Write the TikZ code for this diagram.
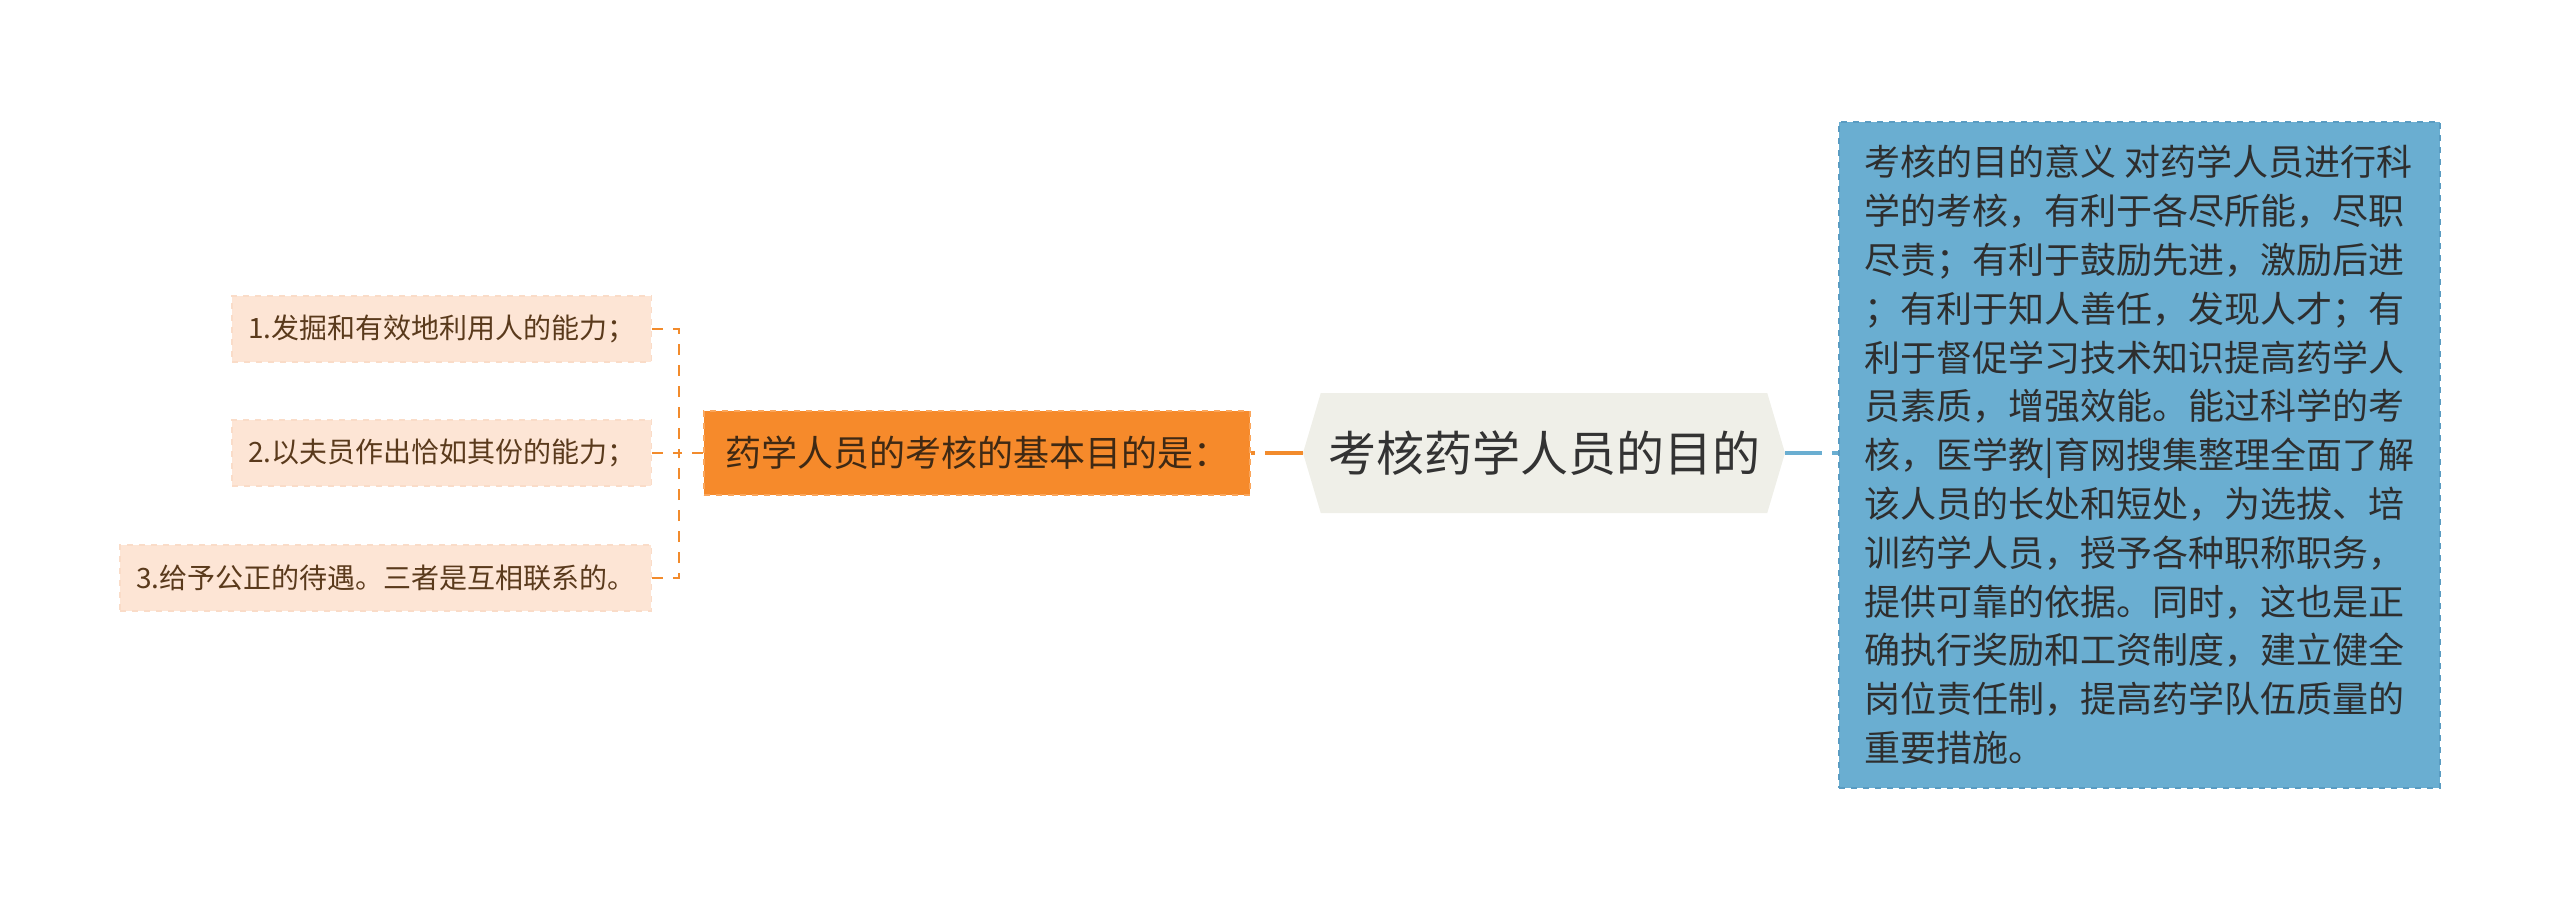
\documentclass[tikz,border=0pt]{standalone}
\usepackage{fontspec}
\newfontfamily\cjk{Noto Sans CJK SC}
\usetikzlibrary{shapes.symbols}
\definecolor{hubfill}{HTML}{EFEFE8}
\definecolor{hubtext}{HTML}{333333}
\definecolor{trunkorange}{HTML}{F28B2C}
\definecolor{boxorange}{HTML}{F68A2B}
\definecolor{boxorangeedge}{HTML}{FAA65C}
\definecolor{leaffill}{HTML}{FDE5D5}
\definecolor{leafedge}{HTML}{FADCC8}
\definecolor{leaftext}{HTML}{5A3A1C}
\definecolor{notefill}{HTML}{6AAED1}
\definecolor{noteedge}{HTML}{5A9CC2}
\definecolor{notetext}{HTML}{2E2E2E}

\begin{document}
\begin{tikzpicture}[x=0.5pt,y=-0.5pt,
	hub/.style={signal, signal to=west and east, signal pointer angle=147, fill=hubfill, text=hubtext, font=\cjk\fontsize{24}{28}\selectfont, minimum width=241pt, minimum height=60pt, inner xsep=2pt},
	goalbox/.style={fill=boxorange, draw=boxorangeedge, dashed, line width=0.8pt, text=leaftext!70!black, font=\cjk\fontsize{18}{21}\selectfont, minimum width=273pt, minimum height=42pt},
	leaf/.style={fill=leaffill, draw=leafedge, dashed, line width=0.6pt, text=leaftext, font=\cjk\fontsize{14}{17}\selectfont, minimum height=33pt, inner xsep=8pt, anchor=east},
	note/.style={fill=notefill, draw=noteedge, dashed, line width=0.8pt, text=notetext, font=\cjk\fontsize{18}{24.4}\selectfont, align=left, minimum width=300.5pt, minimum height=333pt, inner xsep=10pt, anchor=north west},
	twig/.style={draw=trunkorange, line width=1.1pt, dash pattern=on 5.5pt off 5pt}
	]

	\useasboundingbox (0,0) rectangle (2560,907);

	\node (topic) at (1544,453) [hub] {考核药学人员的目的};
	\node (goal) at (977,453) [goalbox] {药学人员的考核的基本目的是：};
	\node (note) at (1838,121) [note] {考核的目的意义 对药学人员进行科\\
		学的考核，有利于各尽所能，尽职\\
		尽责；有利于鼓励先进，激励后进\\
		；有利于知人善任，发现人才；有\\
		利于督促学习技术知识提高药学人\\
		员素质，增强效能。能过科学的考\\
		核，医学教|育网搜集整理全面了解\\
		该人员的长处和短处，为选拔、培\\
		训药学人员，授予各种职称职务，\\
		提供可靠的依据。同时，这也是正\\
		确执行奖励和工资制度，建立健全\\
		岗位责任制，提高药学队伍质量的\\
		重要措施。};

	\node (leafA) at (652,329) [leaf] {1.发掘和有效地利用人的能力；};
	\node (leafB) at (652,453) [leaf] {2.以夫员作出恰如其份的能力；};
	\node (leafC) at (652,578) [leaf] {3.给予公正的待遇。三者是互相联系的。};

	\coordinate (fork) at (679,453);

	\draw[trunkorange, line width=2.2pt, dash pattern=on 19pt off 5pt on 10pt off 10pt] (topic.west) -- (goal.east);
	\draw[notefill, line width=2.2pt, dash pattern=on 18.5pt off 5pt on 10pt off 10pt] (topic.east) -- (note.west |- topic.east);

	\draw[twig] (goal.west) -- (fork);
	\draw[twig] (leafA.east) -| (fork);
	\draw[twig] (leafB.east) -- (fork);
	\draw[twig] (leafC.east) -| (fork);
\end{tikzpicture}
\end{document}
